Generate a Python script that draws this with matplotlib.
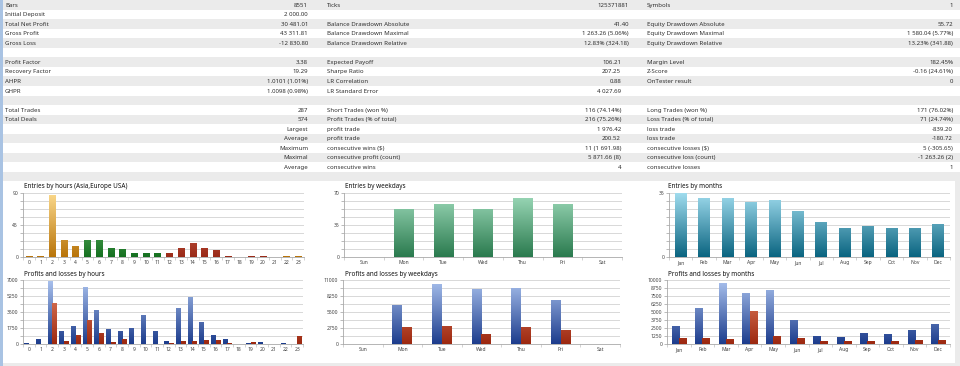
import numpy as np
import matplotlib
matplotlib.use('Agg')
import matplotlib.pyplot as plt
from matplotlib.colors import LinearSegmentedColormap
from matplotlib.patches import Rectangle

plt.rcParams['font.family'] = ['Noto Sans', 'DejaVu Sans']

# ---- report table (19 rows) ----
label1 = ["Bars", "Initial Deposit", "Total Net Profit", "Gross Profit", "Gross Loss", "",
          "Profit Factor", "Recovery Factor", "AHPR", "GHPR", "",
          "Total Trades", "Total Deals", "", "", "", "", "", ""]
value1 = ["8551", "2 000.00", "30 481.01", "43 311.81", "-12 830.80", "",
          "3.38", "19.29", "1.0101 (1.01%)", "1.0098 (0.98%)", "",
          "287", "574", "Largest", "Average", "Maximum", "Maximal", "Average", ""]
label2 = ["Ticks", "", "Balance Drawdown Absolute", "Balance Drawdown Maximal", "Balance Drawdown Relative", "",
          "Expected Payoff", "Sharpe Ratio", "LR Correlation", "LR Standard Error", "",
          "Short Trades (won %)", "Profit Trades (% of total)", "profit trade", "profit trade",
          "consecutive wins ($)", "consecutive profit (count)", "consecutive wins", ""]
value2 = ["125371881", "", "41.40", "1 263.26 (5.06%)", "12.83% (324.18)", "",
          "106.21", "207.25", "0.88", "4 027.69", "",
          "116 (74.14%)", "216 (75.26%)", "1 976.42", "200.52", "11 (1 691.98)", "5 871.66 (8)", "4", ""]
label3 = ["Symbols", "", "Equity Drawdown Absolute", "Equity Drawdown Maximal", "Equity Drawdown Relative", "",
          "Margin Level", "Z-Score", "OnTester result", "", "",
          "Long Trades (won %)", "Loss Trades (% of total)", "loss trade", "loss trade",
          "consecutive losses ($)", "consecutive loss (count)", "consecutive losses", ""]
value3 = ["1", "", "55.72", "1 580.04 (5.77%)", "13.23% (341.88)", "",
          "182.45%", "-0.16 (24.61%)", "0", "", "",
          "171 (76.02%)", "71 (24.74%)", "-839.20", "-180.72", "5 (-305.65)", "-1 263.26 (2)", "1", ""]

# ---- charts ----
hours = [str(h) for h in range(24)]
hour_entries = [2, 2, 87, 24, 16, 24, 24, 12, 11, 6, 6, 6, 6, 13, 19, 12, 10, 1, 0, 2, 1, 0, 1, 2]
hour_session = ['asia'] * 5 + ['europe'] * 7 + ['usa'] * 9 + ['asia'] * 3
hour_profit = [110, 510, 6890, 1420, 1970, 6230, 3720, 1640, 1420, 1750, 3135, 1385,
               330, 3900, 5180, 2405, 985, 510, 0, 110, 220, 0, 110, 0]
hour_loss = [0, 0, 4520, 365, 1020, 2625, 1200, 255, 550, 0, 0, 0,
             110, 330, 330, 400, 400, 110, 0, 180, 0, 0, 0, 875]

weekdays = ["Sun", "Mon", "Tue", "Wed", "Thu", "Fri", "Sat"]
day_entries = [0, 53, 58, 53, 65, 58, 0]
day_profit = [0, 6705, 10315, 9455, 9630, 7565, 0]
day_loss = [0, 2980, 3095, 1720, 2980, 2350, 0]

months = ["Jan", "Feb", "Mar", "Apr", "May", "Jun", "Jul", "Aug", "Sep", "Oct", "Nov", "Dec"]
month_entries = [35, 32, 32, 30, 31, 25, 19, 16, 17, 16, 16, 18]
month_profit = [2810, 5625, 9530, 7970, 8440, 3750, 1250, 1100, 1720, 1560, 2190, 3125]
month_loss = [940, 940, 780, 5150, 1250, 940, 470, 470, 470, 470, 625, 625]

W, H = 960, 366
fig = plt.figure(figsize=(W / 100, H / 100), dpi=100)
bg = fig.add_axes([0, 0, 1, 1])
bg.set_xlim(0, W)
bg.set_ylim(H, 0)
bg.axis('off')

RH = 9.55
TXT = '#303030'
FS = 4.4
for i in range(len(label1)):
    y0 = i * RH
    if i % 2 == 0:
        bg.add_patch(Rectangle((3, y0), W, RH, color='#ebebeb', lw=0))
    yc = y0 + RH / 2 + 0.3
    v2x = 629 if i < 5 else 621
    bg.text(5, yc, label1[i], fontsize=FS, color=TXT, va='center', ha='left')
    bg.text(308, yc, value1[i], fontsize=FS, color=TXT, va='center', ha='right')
    bg.text(327, yc, label2[i], fontsize=FS, color=TXT, va='center', ha='left')
    bg.text(v2x, yc, value2[i], fontsize=FS, color=TXT, va='center', ha='right')
    bg.text(647, yc, label3[i], fontsize=FS, color=TXT, va='center', ha='left')
    bg.text(953, yc, value3[i], fontsize=FS, color=TXT, va='center', ha='right')

bg.add_patch(Rectangle((0, 0), 2.5, H, color='#a9c3e3', lw=0))
bg.add_patch(Rectangle((3, 362.5), W, 4, color='#ebebeb', lw=0))
bg.add_patch(Rectangle((955, 181), 5, 182, color='#ebebeb', lw=0))

GRAD = np.linspace(0, 1, 256).reshape(-1, 1)
COLS = {
    'asia': ('#b8740a', '#fbd98c'),
    'europe': ('#157020', '#8ed88e'),
    'usa': ('#9a2a18', '#ee8a70'),
    'day': ('#2a7a4e', '#a0dcbc'),
    'month': ('#0a6480', '#a0dcee'),
    'blue': ('#1c3c8c', '#aac2ee'),
    'red': ('#9c2810', '#ec8c6c'),
}


def px_axes(L, R, T, B):
    return fig.add_axes([L / W, (H - B) / H, (R - L) / W, (B - T) / H])


def grad_bars(ax, x, h, width, keys, ymax):
    bars = ax.bar(x, h, width, color='none', edgecolor='none', zorder=2)
    for b, k in zip(bars, keys):
        if b.get_height() <= 0:
            continue
        cmap = LinearSegmentedColormap.from_list(k, list(COLS[k]))
        im = ax.imshow(GRAD, cmap=cmap, origin='lower', aspect='auto', zorder=2,
                       extent=(b.get_x(), b.get_x() + b.get_width(), 0, ymax))
        im.set_clip_path(b)


def style(ax, cats, ymax, labels, title, tx, ty):
    n = len(cats)
    ax.set_xlim(-0.5, n - 0.5)
    ax.set_ylim(0, ymax)
    ax.set_xticks(range(n))
    ax.set_xticklabels(cats, fontsize=3.6, color='#404040')
    ax.set_xticks(np.arange(n + 1) - 0.5, minor=True)
    ax.tick_params(axis='x', which='major', length=0, pad=2.5)
    ax.tick_params(axis='x', which='minor', length=2.5, color='#c0c0c0', width=0.5)
    ax.set_yticks(np.linspace(0, ymax, 9), minor=True)
    ax.set_yticks(labels)
    ax.set_yticklabels([f"{v:g}" for v in labels], fontsize=3.6, color='#404040')
    ax.tick_params(axis='y', which='both', length=2, color='#a0a0a0', width=0.5, pad=1.5)
    ax.grid(axis='y', which='both', color='#d2d2d2', lw=0.6)
    ax.set_axisbelow(True)
    for s in ['top', 'right']:
        ax.spines[s].set_visible(False)
    for s in ['left', 'bottom']:
        ax.spines[s].set_color('#a8a8a8')
        ax.spines[s].set_linewidth(0.6)
    ax.set_facecolor('none')
    bg.text(tx, ty, title, fontsize=4.6, color='#101010', va='center', ha='left')


# entries by hours
ax = px_axes(23, 304, 193, 257)
grad_bars(ax, np.arange(24), hour_entries, 0.55, hour_session, 90)
style(ax, hours, 90, [0, 45, 90], "Entries by hours (Asia,Europe USA)", 24, 187)

# entries by weekdays
ax = px_axes(344, 622, 193, 257)
grad_bars(ax, np.arange(7), day_entries, 0.48, ['day'] * 7, 70)
style(ax, weekdays, 70, [0, 35, 70], "Entries by weekdays", 345, 187)

# entries by months
ax = px_axes(669, 950, 193, 257)
grad_bars(ax, np.arange(12), month_entries, 0.5, ['month'] * 12, 35)
style(ax, months, 35, [0, 35], "Entries by months", 668, 187)

# profits and losses by hours
ax = px_axes(23, 303, 280, 344)
x = np.arange(24)
grad_bars(ax, x - 0.2, hour_profit, 0.4, ['blue'] * 24, 7000)
grad_bars(ax, x + 0.2, hour_loss, 0.4, ['red'] * 24, 7000)
style(ax, hours, 7000, [0, 1750, 3500, 5250, 7000], "Profits and losses by hours", 24, 274)

# profits and losses by weekdays
ax = px_axes(343, 620, 280, 344)
x = np.arange(7)
grad_bars(ax, x - 0.125, day_profit, 0.25, ['blue'] * 7, 11000)
grad_bars(ax, x + 0.125, day_loss, 0.25, ['red'] * 7, 11000)
style(ax, weekdays, 11000, [0, 2750, 5500, 8250, 11000], "Profits and losses by weekdays", 345, 274)

# profits and losses by months
ax = px_axes(667, 950, 280, 344)
x = np.arange(12)
grad_bars(ax, x - 0.15, month_profit, 0.3, ['blue'] * 12, 10000)
grad_bars(ax, x + 0.15, month_loss, 0.3, ['red'] * 12, 10000)
style(ax, months, 10000, list(range(0, 10001, 1250)), "Profits and losses by months", 668, 274)

fig.savefig('out.png', dpi=100)
